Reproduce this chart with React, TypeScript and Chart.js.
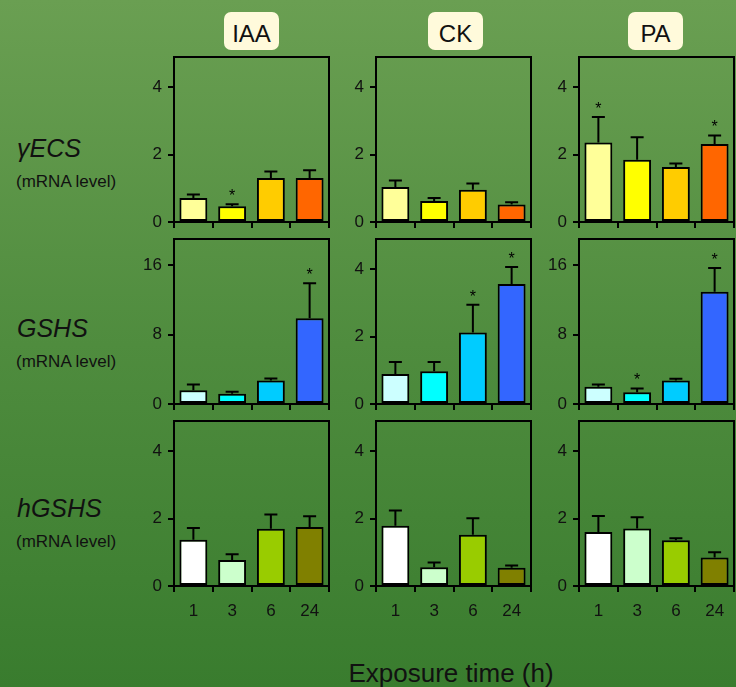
import React, { useEffect, useRef } from 'react';
import { Chart, registerables } from 'chart.js';

Chart.register(...registerables);

// ---------- data ----------
const hours = ['1', '3', '6', '24'];
const treatments = ['IAA', 'CK', 'PA'];
const genes = ['γECS', 'GSHS', 'hGSHS'];
const mrnaLabel = '(mRNA level)';
const xTitle = 'Exposure time (h)';

// γECS
const ecsIAA = [0.71, 0.47, 1.31, 1.31];
const ecsIAASd = [0.11, 0.06, 0.19, 0.23];
const ecsIAAStars = [1];
const ecsCK = [1.04, 0.62, 0.96, 0.52];
const ecsCKSd = [0.19, 0.09, 0.18, 0.07];
const ecsCKStars: number[] = [];
const ecsPA = [2.36, 1.85, 1.63, 2.32];
const ecsPASd = [0.76, 0.67, 0.11, 0.25];
const ecsPAStars = [0, 3];

// GSHS
const gshsIAA = [1.59, 1.17, 2.72, 9.86];
const gshsIAASd = [0.66, 0.23, 0.23, 4.04];
const gshsIAAStars = [3];
const gshsCK = [0.89, 0.97, 2.12, 3.56];
const gshsCKSd = [0.36, 0.28, 0.83, 0.51];
const gshsCKStars = [2, 3];
const gshsPA = [1.98, 1.36, 2.72, 12.93];
const gshsPASd = [0.27, 0.43, 0.19, 2.72];
const gshsPAStars = [1, 3];

// hGSHS
const hgIAA = [1.37, 0.77, 1.7, 1.75];
const hgIAASd = [0.35, 0.17, 0.42, 0.32];
const hgIAAStars: number[] = [];
const hgCK = [1.79, 0.56, 1.52, 0.54];
const hgCKSd = [0.45, 0.14, 0.49, 0.07];
const hgCKStars: number[] = [];
const hgPA = [1.6, 1.71, 1.36, 0.85];
const hgPASd = [0.48, 0.33, 0.06, 0.15];
const hgPAStars: number[] = [];

const smallTicks = [0, 2, 4];
const smallMax = 4.9;
const bigTicks = [0, 8, 16];
const bigMax = 19;

const ecsColors = ['#FFFF99', '#FFFF00', '#FFCC00', '#FF6600'];
const gshsColors = ['#CCFFFF', '#00FFFF', '#00CCFF', '#3366FF'];
const hgColors = ['#FFFFFF', '#CCFFCC', '#99CC00', '#808000'];

// ---------- layout ----------
const FONT = '"Liberation Sans", Arial, Helvetica, sans-serif';
const colLeft = [174, 376, 579];
const rowTop = [57, 239, 421];
const BOX_W = 155;
const BOX_H = 165;
const Y_W = 45;
const PAD_T = 18;
const PAD_R = 6;

type PanelProps = {
  values: number[];
  sd: number[];
  stars: number[];
  colors: string[];
  yMax: number;
  yTicks: number[];
  showX: boolean;
  left: number;
  top: number;
};

function Panel(p: PanelProps) {
  const ref = useRef<HTMLCanvasElement | null>(null);
  const bottomH = p.showX ? 36 : 20;
  const W = Y_W + BOX_W + PAD_R;
  const H = PAD_T + BOX_H + bottomH;

  useEffect(() => {
    if (!ref.current) return;
    const errPlugin = {
      id: 'errbars',
      afterDatasetsDraw(chart: any) {
        const ctx = chart.ctx;
        const meta = chart.getDatasetMeta(0);
        const ys = chart.scales.y;
        ctx.save();
        ctx.strokeStyle = '#000';
        ctx.fillStyle = '#000';
        ctx.lineWidth = 2;
        meta.data.forEach((el: any, i: number) => {
          const x = el.x;
          const yTop = el.y;
          const yErr = ys.getPixelForValue(p.values[i] + p.sd[i]);
          ctx.beginPath();
          ctx.moveTo(x, yTop);
          ctx.lineTo(x, yErr);
          ctx.moveTo(x - 6.5, yErr);
          ctx.lineTo(x + 6.5, yErr);
          ctx.stroke();
          if (p.stars.includes(i)) {
            ctx.font = `16px ${FONT}`;
            ctx.textAlign = 'center';
            ctx.textBaseline = 'alphabetic';
            ctx.fillText('*', x, yErr - 3);
          }
        });
        ctx.restore();
      },
      afterDraw(chart: any) {
        const a = chart.chartArea;
        const ctx = chart.ctx;
        ctx.save();
        ctx.strokeStyle = '#000';
        ctx.lineWidth = 2;
        ctx.strokeRect(a.left, a.top, a.right - a.left, a.bottom - a.top);
        ctx.restore();
      },
    };

    const chart = new Chart(ref.current, {
      type: 'bar',
      data: {
        labels: hours,
        datasets: [
          {
            data: p.values,
            backgroundColor: p.colors,
            borderColor: '#000',
            borderWidth: 2,
            borderSkipped: false,
            barPercentage: 0.72,
            categoryPercentage: 1,
          },
        ],
      },
      options: {
        responsive: false,
        animation: false,
        devicePixelRatio: 1,
        layout: { padding: { top: PAD_T, right: PAD_R, left: 0, bottom: 0 } },
        plugins: { legend: { display: false }, tooltip: { enabled: false } },
        scales: {
          x: {
            type: 'category',
            offset: true,
            border: { display: false },
            grid: {
              display: true,
              offset: true,
              drawOnChartArea: false,
              drawTicks: true,
              tickLength: 6,
              color: '#000',
              lineWidth: 2,
            },
            ticks: {
              display: p.showX,
              font: { size: 17, family: FONT },
              color: '#111',
              padding: 9,
              maxRotation: 0,
            },
            afterFit(s: any) {
              s.height = bottomH;
            },
          },
          y: {
            min: 0,
            max: p.yMax,
            border: { display: false },
            grid: {
              drawOnChartArea: false,
              drawTicks: true,
              tickLength: 6,
              color: '#000',
              lineWidth: 2,
            },
            ticks: {
              font: { size: 17, family: FONT },
              color: '#111',
              padding: 6,
            },
            afterBuildTicks(s: any) {
              s.ticks = p.yTicks.map((v) => ({ value: v }));
            },
            afterFit(s: any) {
              s.width = Y_W;
            },
          },
        },
      } as any,
      plugins: [errPlugin],
    });
    return () => chart.destroy();
  }, []);

  return (
    <canvas
      ref={ref}
      width={W}
      height={H}
      style={{
        position: 'absolute',
        left: p.left - Y_W,
        top: p.top - PAD_T,
        width: W,
        height: H,
      }}
    />
  );
}

function Text(props: {
  x: number;
  baseline: number;
  size: number;
  text: string;
  italic?: boolean;
  center?: boolean;
}) {
  const { x, baseline, size, text, italic, center } = props;
  const top = baseline - size * 0.8465;
  return (
    <div
      style={{
        position: 'absolute',
        left: center ? x - 200 : x,
        width: center ? 400 : undefined,
        textAlign: center ? 'center' : 'left',
        top,
        fontFamily: FONT,
        fontSize: size,
        lineHeight: `${size}px`,
        fontStyle: italic ? 'italic' : 'normal',
        color: '#111',
        whiteSpace: 'nowrap',
      }}
    >
      {text}
    </div>
  );
}

export default function App() {
  const panels: PanelProps[] = [
    { values: ecsIAA, sd: ecsIAASd, stars: ecsIAAStars, colors: ecsColors, yMax: smallMax, yTicks: smallTicks, showX: false, left: colLeft[0], top: rowTop[0] },
    { values: ecsCK, sd: ecsCKSd, stars: ecsCKStars, colors: ecsColors, yMax: smallMax, yTicks: smallTicks, showX: false, left: colLeft[1], top: rowTop[0] },
    { values: ecsPA, sd: ecsPASd, stars: ecsPAStars, colors: ecsColors, yMax: smallMax, yTicks: smallTicks, showX: false, left: colLeft[2], top: rowTop[0] },
    { values: gshsIAA, sd: gshsIAASd, stars: gshsIAAStars, colors: gshsColors, yMax: bigMax, yTicks: bigTicks, showX: false, left: colLeft[0], top: rowTop[1] },
    { values: gshsCK, sd: gshsCKSd, stars: gshsCKStars, colors: gshsColors, yMax: smallMax, yTicks: smallTicks, showX: false, left: colLeft[1], top: rowTop[1] },
    { values: gshsPA, sd: gshsPASd, stars: gshsPAStars, colors: gshsColors, yMax: bigMax, yTicks: bigTicks, showX: false, left: colLeft[2], top: rowTop[1] },
    { values: hgIAA, sd: hgIAASd, stars: hgIAAStars, colors: hgColors, yMax: smallMax, yTicks: smallTicks, showX: true, left: colLeft[0], top: rowTop[2] },
    { values: hgCK, sd: hgCKSd, stars: hgCKStars, colors: hgColors, yMax: smallMax, yTicks: smallTicks, showX: true, left: colLeft[1], top: rowTop[2] },
    { values: hgPA, sd: hgPASd, stars: hgPAStars, colors: hgColors, yMax: smallMax, yTicks: smallTicks, showX: true, left: colLeft[2], top: rowTop[2] },
  ];
  const titleCenters = [251, 455, 655];
  const geneBaselines = [157, 337, 517];

  return (
    <div
      style={{
        position: 'absolute',
        left: 0,
        top: 0,
        width: 736,
        height: 687,
        overflow: 'hidden',
        background: 'linear-gradient(to bottom, #6A9F52 0%, #4F8C3E 50%, #397C2E 100%)',
      }}
    >
      {treatments.map((t, i) => (
        <div
          key={t}
          style={{
            position: 'absolute',
            left: titleCenters[i] - 27,
            top: 12,
            width: 55,
            height: 38,
            borderRadius: 7,
            background: '#FFFADB',
            fontFamily: FONT,
            fontSize: 24,
            lineHeight: '44px',
            textAlign: 'center',
            color: '#111',
            overflow: 'visible',
          }}
        >
          {t}
        </div>
      ))}
      {genes.map((g, i) => (
        <React.Fragment key={g}>
          <Text x={17} baseline={geneBaselines[i]} size={25} text={g} italic />
          <Text x={16} baseline={geneBaselines[i] + 30} size={17} text={mrnaLabel} />
        </React.Fragment>
      ))}
      {panels.map((p, i) => (
        <Panel key={i} {...p} />
      ))}
      <Text x={451} baseline={682} size={26} text={xTitle} center />
    </div>
  );
}
